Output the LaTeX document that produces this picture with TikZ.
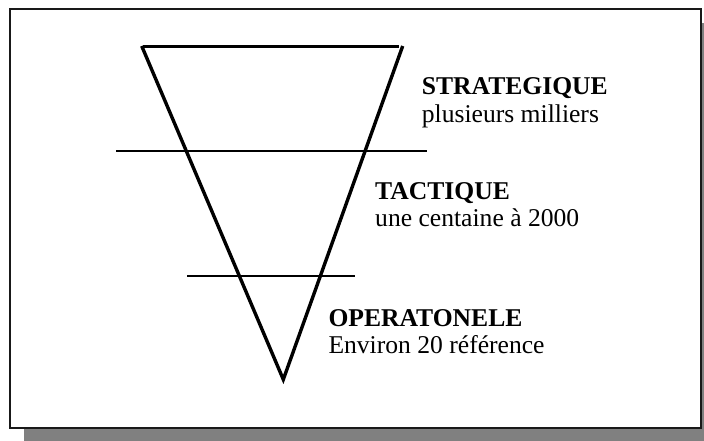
\documentclass[tikz,border=0pt]{standalone}
\usepackage{fontspec}
\setmainfont{Liberation Serif}
\definecolor{shadowgray}{RGB}{128,128,128}
\begin{document}
\begin{tikzpicture}[x=1pt,y=-1pt,
  thickline/.style={line width=3.4pt},
  thinline/.style={line width=1.7pt},
  lbl/.style={anchor=base west,inner sep=0pt,font=\fontsize{25.6}{30}\selectfont},
  lblb/.style={lbl,font=\fontsize{25.6}{30}\selectfont\bfseries}]
\useasboundingbox (0,0) rectangle (704,441);
% shadow
\fill[shadowgray] (24,23) rectangle (704,441);
% frame
\filldraw[fill=white,draw=black!90,line width=2.2pt] (10,9) rectangle (701,428);
% funnel
\draw[thickline] (143,46.5) -- (398.5,46.5);
\draw[thickline,line join=miter] (141.7,46) -- (283.3,379.5) -- (402.7,46);
\draw[thinline] (116,150.7) -- (426.7,150.7);
\draw[thinline] (187.3,276) -- (355,276);
% labels
\node[lblb] (s1) at (421.7,95) {STRATEGIQUE};
\node[lbl] (s2) at (421.7,123) {plusieurs milliers};
\node[lblb] (t1) at (375,199) {TACTIQUE};
\node[lbl] (t2) at (375,226.5) {une centaine à 2000};
\node[lblb] (o1) at (328.3,326.5) {OPERATONELE};
\node[lbl] (o2) at (328.3,353) {Environ 20 référence};
\end{tikzpicture}
\end{document}
